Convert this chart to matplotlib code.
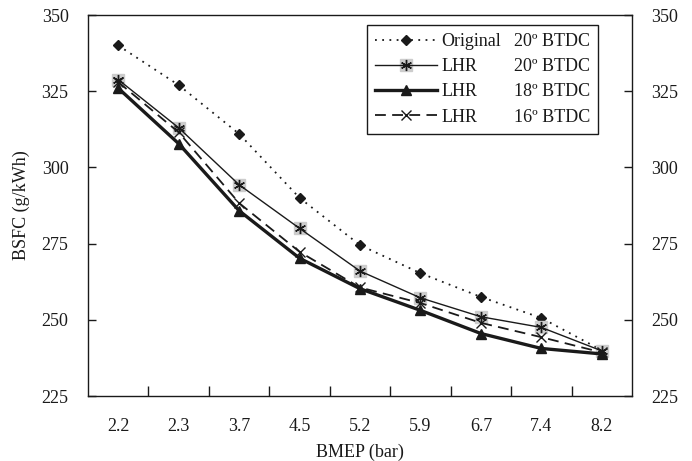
import matplotlib
matplotlib.use("Agg")
import matplotlib.pyplot as plt
from matplotlib.lines import Line2D

bmep = ["2.2", "2.3", "3.7", "4.5", "5.2", "5.9", "6.7", "7.4", "8.2"]

original_20 = [340, 327, 311, 290, 274.5, 265.3, 257.5, 250.6, 240]
lhr_20 = [328.8, 313, 294.3, 280, 266, 257.2, 251, 247.5, 239.8]
lhr_18 = [326, 307.8, 285.8, 270.2, 260.2, 253.1, 245.5, 240.6, 238.8]
lhr_16 = [328, 311.5, 288.3, 272.3, 260.6, 255.5, 249, 244.3, 239.3]

ink = "#1a1a1a"
plt.rcParams["font.family"] = ["Liberation Serif", "DejaVu Serif"]
plt.rcParams["font.size"] = 13

fig = plt.figure(figsize=(6.92, 4.61), dpi=100)
ax = fig.add_axes([88 / 692, 1 - 396 / 461, 544 / 692, 381 / 461])

x = list(range(len(bmep)))

h_orig, = ax.plot(x, original_20, linestyle=(0, (1, 3)), lw=1.3, color=ink,
                  marker="D", ms=5, mfc=ink, mec=ink)
h_20sq, = ax.plot(x, lhr_20, linestyle="none", marker="s", ms=8.5,
                  mfc="#cccccc", mec="#cccccc")
h_20, = ax.plot(x, lhr_20, linestyle="-", lw=1.0, color=ink,
                marker=(6, 2, 0), ms=8, mew=1.0, mec=ink)
h_18, = ax.plot(x, lhr_18, linestyle="-", lw=2.4, color=ink,
                marker="^", ms=7, mfc=ink, mec=ink)
h_16, = ax.plot(x, lhr_16, linestyle=(0, (6, 3.5)), lw=1.3, color=ink,
                marker="x", ms=7, mew=1.0, mec=ink)

ax.set_xlim(-0.5, len(bmep) - 0.5)
ax.set_ylim(225, 350)
ax.set_yticks([225, 250, 275, 300, 325, 350])
ax.set_xticks(x)
ax.set_xticklabels(bmep)
ax.set_xticks([i + 0.5 for i in range(len(bmep) - 1)], minor=True)
ax.tick_params(axis="x", which="major", length=0, pad=16, colors=ink)
ax.tick_params(axis="x", which="minor", direction="in", length=7, width=1, color=ink)
ax.tick_params(axis="y", direction="in", length=6, width=1, left=True, right=True,
               labelleft=True, labelright=True, pad=14, colors=ink)

for s in ax.spines.values():
    s.set_linewidth(1.0)
    s.set_color(ink)

ax.set_xlabel("BMEP (bar)", color=ink, labelpad=6)
ax.set_ylabel("BSFC (g/kWh)", color=ink, labelpad=8)

blank = Line2D([], [], linestyle="none")
handles = [h_orig, (h_20sq, h_20), h_18, h_16, blank, blank, blank, blank]
labels = ["Original", "LHR", "LHR", "LHR",
          "20º BTDC", "20º BTDC", "18º BTDC", "16º BTDC"]
leg = ax.legend(handles, labels, ncol=2, loc="upper right",
                bbox_to_anchor=((598 - 88) / 544, 1 - 10 / 381), borderaxespad=0,
                handlelength=3.4, handletextpad=0.25, columnspacing=-2.95,
                labelspacing=0.45, numpoints=1, fancybox=False, framealpha=1,
                edgecolor=ink, borderpad=0.45)
leg.get_frame().set_linewidth(1.0)
for t in leg.get_texts():
    t.set_color(ink)

fig.savefig("out.png", dpi=100)
